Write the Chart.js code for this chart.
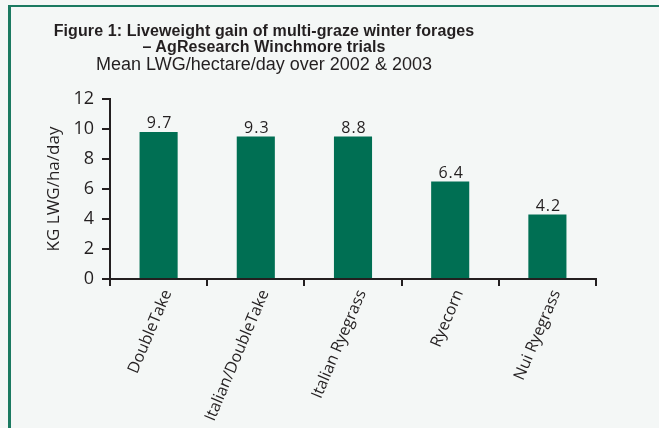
<!DOCTYPE html>
<html lang="en">
<head>
    <meta charset="UTF-8">
    <title>Liveweight gain of multi-graze winter forages</title>
    <script src="https://cdn.jsdelivr.net/npm/chart.js"></script>
    <style>
        html, body { margin: 0; padding: 0; }
        body {
            width: 659px; height: 428px; overflow: hidden; position: relative;
            background: #f4f7f6;
            font-family: "Liberation Sans", Arial, sans-serif;
        }
        .frame {
            position: absolute; left: 8px; top: 5px; right: -10px; bottom: -10px;
            border-top: 2px solid #1b7a61; border-left: 3px solid #1b7a61;
        }
        .titles {
            position: absolute; left: 0; top: 23px; width: 528px;
            text-align: center; color: #231f20;
        }
        .titles .main { font-weight: bold; font-size: 16px; line-height: 16px; letter-spacing: 0.1px; }
        .titles .sub { font-size: 18px; line-height: 17px; margin-top: 1px; }
        #chartBox { position: absolute; left: 0; top: 0; width: 659px; height: 428px; }
    </style>
</head>
<body>
    <div class="frame"></div>
    <div id="chartBox"><canvas id="lwgChart"></canvas></div>
    <div class="titles">
        <div class="main">Figure 1: Liveweight gain of multi-graze winter forages</div>
        <div class="main">– AgResearch Winchmore trials</div>
        <div class="sub">Mean LWG/hectare/day over 2002 &amp; 2003</div>
    </div>

    <script>
        // forage types on the x axis
        const forages = ['DoubleTake', 'Italian/DoubleTake', 'Italian Ryegrass', 'Ryecorn', 'Nui Ryegrass'];
        // bar heights as drawn (kg LWG/ha/day)
        const lwgValues = [9.8, 9.5, 9.5, 6.5, 4.3];
        // numbers printed above the bars
        const valueLabels = ['9.7', '9.3', '8.8', '6.4', '4.2'];
        const yMin = 0;
        const yMax = 12;
        const yStep = 2;

        const ink = '#231f20';

        // prints the value above each bar
        const barValues = {
            id: 'barValues',
            afterDatasetsDraw(chart) {
                const ctx = chart.ctx;
                const meta = chart.getDatasetMeta(0);
                ctx.save();
                ctx.font = '16px "Open Sans"';
                ctx.letterSpacing = '1px';
                ctx.fillStyle = ink;
                ctx.textAlign = 'center';
                ctx.textBaseline = 'alphabetic';
                meta.data.forEach((bar, i) => {
                    ctx.fillText(valueLabels[i], bar.x + 1, bar.y - 4);
                });
                ctx.restore();
            }
        };

        function drawChart() {
            const ctx = document.getElementById('lwgChart').getContext('2d');
            new Chart(ctx, {
                type: 'bar',
                data: {
                    labels: forages,
                    datasets: [{
                        data: lwgValues,
                        backgroundColor: '#006f53',
                        barPercentage: 0.8,
                        categoryPercentage: 0.49,
                    }],
                },
                options: {
                    responsive: true,
                    maintainAspectRatio: false,
                    animation: false,
                    layout: { padding: { top: 99, left: 0, right: 63, bottom: 0 } },
                    plugins: {
                        legend: { display: false },
                        tooltip: { enabled: false },
                    },
                    scales: {
                        x: {
                            offset: true,
                            afterFit: (scale) => { scale.height = 149; },
                            border: { color: ink, width: 2 },
                            grid: {
                                offset: true,
                                drawOnChartArea: false,
                                tickLength: 7,
                                lineWidth: 2,
                                color: ink,
                            },
                            ticks: {
                                color: ink,
                                font: { family: 'Open Sans', size: 16 },
                                minRotation: 67,
                                maxRotation: 67,
                                padding: 1,
                                labelOffset: 9,
                                autoSkip: false,
                            },
                        },
                        y: {
                            min: yMin,
                            max: yMax,
                            afterFit: (scale) => { scale.width = 110; },
                            border: { color: ink, width: 2 },
                            grid: {
                                drawOnChartArea: false,
                                tickLength: 8,
                                lineWidth: 2,
                                color: ink,
                            },
                            ticks: {
                                stepSize: yStep,
                                color: ink,
                                font: { family: 'Open Sans', size: 18 },
                                padding: 8,
                            },
                            title: {
                                display: true,
                                text: 'KG LWG/ha/day',
                                color: ink,
                                font: { family: 'Open Sans', size: 17 },
                                padding: { top: 44, bottom: 0 },
                            },
                        },
                    },
                },
                plugins: [barValues],
            });
        }

        Promise.all([
            document.fonts.load('16px "Open Sans"'),
            document.fonts.load('bold 16px "Liberation Sans"'),
        ]).then(drawChart, drawChart);
    </script>
</body>
</html>
